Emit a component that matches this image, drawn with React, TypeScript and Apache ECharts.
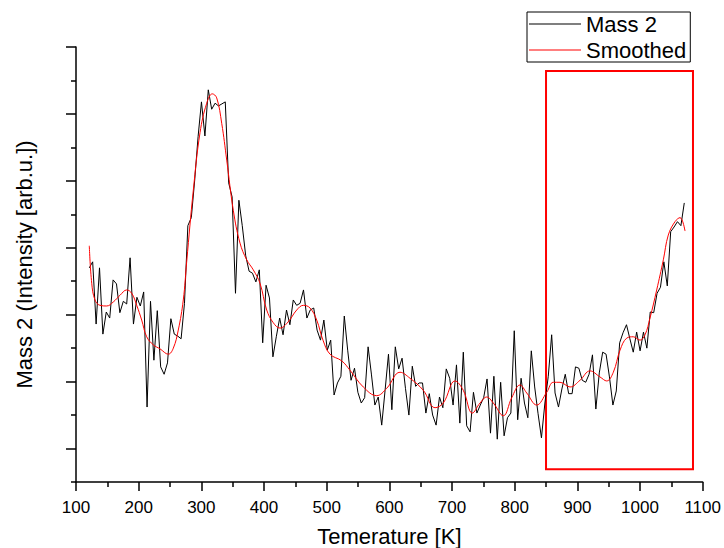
import React, { useEffect, useRef } from "react";
import * as echarts from "echarts";

// Temperature grid of the measured series [K]
const temps = [
  121.2, 126.6, 132.1, 137.5, 142.9, 148.3, 153.8, 159.2, 164.6, 170.0,
  175.5, 180.9, 186.3, 191.7, 197.2, 202.6, 208.0, 213.4, 218.9, 224.3,
  229.7, 235.1, 240.6, 246.0, 251.4, 256.8, 262.3, 267.7, 273.1, 278.5,
  284.0, 289.4, 294.8, 300.2, 305.7, 311.1, 316.5, 321.9, 327.4, 332.8,
  338.2, 343.6, 349.1, 354.5, 359.9, 365.3, 370.8, 376.2, 381.6, 387.0,
  392.5, 397.9, 403.3, 408.7, 414.2, 419.6, 425.0, 430.4, 435.9, 441.3,
  446.7, 452.1, 457.6, 463.0, 468.4, 473.8, 479.3, 484.7, 490.1, 495.5,
  501.0, 506.4, 511.8, 517.2, 522.7, 528.1, 533.5, 538.9, 544.4, 549.8,
  555.2, 560.6, 566.1, 571.5, 576.9, 582.3, 587.8, 593.2, 598.6, 604.0,
  609.5, 614.9, 620.3, 625.7, 631.2, 636.6, 642.0, 647.4, 652.9, 658.3,
  663.7, 669.1, 674.6, 680.0, 685.4, 690.8, 696.3, 701.7, 707.1, 712.5,
  718.0, 723.4, 728.8, 734.2, 739.7, 745.1, 750.5, 755.9, 761.4, 766.8,
  772.2, 777.6, 783.1, 788.5, 793.9, 799.3, 804.8, 810.2, 815.6, 821.0,
  826.5, 831.9, 837.3, 842.7, 848.2, 853.6, 859.0, 864.4, 869.9, 875.3,
  880.7, 886.1, 891.6, 897.0, 902.4, 907.8, 913.3, 918.7, 924.1, 929.5,
  935.0, 940.4, 945.8, 951.2, 956.7, 962.1, 967.5, 972.9, 978.4, 983.8,
  989.2, 994.6, 1000.1, 1005.5, 1010.9, 1016.3, 1021.8, 1027.2, 1032.6, 1038.0,
  1043.5, 1048.9, 1054.3, 1059.7, 1065.2, 1070.6,
];

// Mass 2 intensity [arb.u.]
const mass2 = [
  3.20, 3.29, 2.36, 3.20, 2.21, 2.54, 2.45, 3.02, 2.96, 2.53,
  2.70, 2.66, 3.35, 2.36, 2.76, 2.63, 2.84, 1.12, 2.70, 1.82,
  2.56, 1.72, 1.61, 1.78, 2.44, 2.21, 2.18, 2.14, 2.67, 3.83,
  3.95, 4.51, 5.16, 5.68, 5.17, 5.86, 5.57, 5.66, 5.62, 5.65,
  5.68, 4.47, 4.26, 2.82, 4.21, 3.83, 3.38, 3.15, 3.12, 2.99,
  3.17, 2.08, 2.94, 2.75, 1.87, 2.17, 2.45, 2.20, 2.57, 2.35,
  2.72, 2.64, 2.67, 2.87, 2.45, 2.57, 2.60, 2.27, 2.12, 2.42,
  1.97, 2.12, 1.30, 1.48, 1.58, 2.48, 1.97, 1.52, 1.70, 1.34,
  1.18, 1.26, 2.02, 1.60, 1.15, 1.27, 0.85, 1.37, 1.91, 1.08,
  2.02, 1.69, 1.85, 1.40, 1.00, 1.73, 1.43, 1.48, 1.48, 1.03,
  1.32, 1.00, 0.85, 1.27, 1.11, 1.69, 1.55, 1.15, 1.75, 0.88,
  1.94, 0.84, 0.75, 1.34, 1.03, 1.15, 1.26, 1.54, 0.73, 1.58,
  0.64, 1.49, 0.69, 0.96, 1.03, 2.26, 0.93, 1.55, 1.18, 0.96,
  1.96, 1.42, 1.02, 0.66, 1.18, 1.58, 2.20, 1.33, 1.12, 1.39,
  1.61, 1.32, 1.32, 1.72, 1.70, 1.52, 1.49, 1.61, 1.90, 1.09,
  1.63, 1.94, 1.91, 1.57, 1.15, 1.36, 2.08, 2.23, 2.35, 2.14,
  1.94, 2.24, 1.96, 2.24, 2.00, 2.54, 2.53, 2.82, 2.91, 3.29,
  2.93, 3.74, 3.81, 3.89, 3.83, 4.17,
];

// Smoothed curve
const smoothT = [
  121.2, 125.1, 130.3, 138.3, 149.0, 159.5, 170.2, 180.9, 188.9, 196.9,
  204.8, 212.8, 223.3, 234.0, 247.3, 255.3, 263.2, 271.2, 276.6, 287.2,
  297.9, 308.6, 317.5, 324.5, 332.5, 340.5, 351.0, 361.7, 372.4, 382.9,
  393.6, 404.3, 414.8, 425.5, 438.3, 452.2, 462.7, 473.4, 484.1, 494.1,
  505.3, 524.0, 537.2, 558.4, 579.8, 595.8, 617.0, 633.0, 654.2, 672.9,
  686.1, 704.8, 718.0, 732.4, 744.7, 755.4, 765.9, 781.8, 795.3, 808.5,
  819.2, 835.1, 851.1, 861.6, 872.3, 888.3, 904.2, 920.2, 936.1, 946.8,
  957.4, 968.1, 978.8, 989.3, 1000.0, 1008.0, 1015.9, 1026.6, 1037.2, 1045.1,
  1055.8, 1063.8, 1071.8,
];
const smoothI = [
  3.53, 2.97, 2.72, 2.64, 2.63, 2.69, 2.79, 2.87, 2.82, 2.64,
  2.42, 2.17, 2.05, 1.99, 1.91, 2.00, 2.27, 2.72, 3.29, 4.36,
  5.22, 5.66, 5.80, 5.74, 5.36, 4.81, 4.06, 3.57, 3.32, 3.17,
  2.97, 2.57, 2.38, 2.30, 2.39, 2.57, 2.64, 2.60, 2.42, 2.12,
  1.91, 1.81, 1.67, 1.42, 1.29, 1.40, 1.64, 1.55, 1.37, 1.11,
  1.18, 1.51, 1.37, 1.03, 1.18, 1.27, 1.18, 0.99, 1.26, 1.45,
  1.33, 1.15, 1.34, 1.49, 1.49, 1.42, 1.52, 1.66, 1.57, 1.51,
  1.64, 1.97, 2.15, 2.17, 2.12, 2.20, 2.45, 2.87, 3.32, 3.69,
  3.89, 3.95, 3.75,
];

// Highlighted region: [T from, intensity from], [T to, intensity to]
const highlightFrom = [850, 0.19];
const highlightTo = [1084.5, 6.14];

// Y axis ticks (no labels shown)
const yMajorTicks = [0.5, 1.5, 2.5, 3.5, 4.5, 5.5, 6.5];
const yMinorTicks = [0, 1, 2, 3, 4, 5, 6];

const FONT = "'Liberation Sans', Arial, Helvetica, sans-serif";

export default function App() {
  const ref = useRef<HTMLDivElement>(null);

  useEffect(() => {
    if (!ref.current) return;
    const chart = echarts.init(ref.current, null, { renderer: "svg" });

    const mass2Data = temps.map((t, i) => [t, mass2[i]]);
    const smoothData = smoothT.map((t, i) => [t, smoothI[i]]);
    const axisLineStyle = { color: "#000", width: 1.5 };

    chart.setOption({
      animation: false,
      backgroundColor: "#fff",
      textStyle: { fontFamily: FONT, color: "#000" },
      grid: {
        left: 76,
        right: 21.3,
        top: 47,
        bottom: 66,
        containLabel: false,
        outerBoundsMode: "none",
      },
      legend: {
        data: ["Mass 2", "Smoothed"],
        orient: "vertical",
        left: 527,
        top: 12,
        padding: [0, 4, 0, 2],
        itemGap: 2,
        itemWidth: 52,
        itemHeight: 1,
        icon: "rect",
        borderColor: "#000",
        borderWidth: 1,
        borderRadius: 0,
        textStyle: { fontSize: 22, color: "#000", lineHeight: 24, fontFamily: FONT },
      },
      xAxis: {
        type: "value",
        min: 100,
        max: 1100,
        interval: 100,
        name: "Temerature [K]",
        nameLocation: "middle",
        nameGap: 43,
        nameTextStyle: { fontSize: 22, color: "#000", fontFamily: FONT },
        axisLine: { show: true, onZero: false, lineStyle: axisLineStyle },
        axisTick: { show: true, inside: false, length: 9, lineStyle: axisLineStyle },
        minorTick: { show: true, splitNumber: 2, length: 5, lineStyle: axisLineStyle },
        axisLabel: {
          show: true,
          fontSize: 17,
          color: "#000",
          margin: 17,
          fontFamily: FONT,
          formatter: (v: number) => String(v),
        },
        splitLine: { show: false },
        minorSplitLine: { show: false },
      },
      yAxis: [
        {
          type: "value",
          min: 0,
          max: 6.5,
          name: "Mass 2 (Intensity [arb.u.])",
          nameLocation: "middle",
          nameGap: 41,
          nameRotate: 90,
          nameTextStyle: { fontSize: 22, color: "#000", fontFamily: FONT },
          axisLine: { show: true, onZero: false, lineStyle: axisLineStyle },
          axisTick: {
            show: true,
            inside: false,
            length: 10,
            customValues: yMajorTicks,
            lineStyle: axisLineStyle,
          },
          axisLabel: { show: false },
          splitLine: { show: false },
        },
        {
          type: "value",
          min: 0,
          max: 6.5,
          position: "left",
          offset: 0,
          axisLine: { show: false },
          axisTick: {
            show: true,
            inside: false,
            length: 5,
            customValues: yMinorTicks,
            lineStyle: axisLineStyle,
          },
          axisLabel: { show: false },
          splitLine: { show: false },
        },
      ],
      series: [
        {
          name: "Mass 2",
          type: "line",
          data: mass2Data,
          showSymbol: false,
          symbol: "none",
          color: "#000",
          lineStyle: { color: "#000", width: 1 },
          z: 2,
        },
        {
          name: "Smoothed",
          type: "line",
          data: smoothData,
          showSymbol: false,
          symbol: "none",
          smooth: 0.4,
          color: "#ff0000",
          lineStyle: { color: "#ff0000", width: 1 },
          z: 3,
          markArea: {
            silent: true,
            itemStyle: {
              color: "rgba(0,0,0,0)",
              borderColor: "#ff0000",
              borderWidth: 2,
            },
            data: [
              [
                { coord: highlightFrom },
                { coord: highlightTo },
              ],
            ],
          },
        },
      ],
    });

    return () => chart.dispose();
  }, []);

  return (
    <div
      ref={ref}
      style={{ position: "fixed", left: 0, top: 0, width: 724, height: 548, background: "#fff" }}
    />
  );
}
